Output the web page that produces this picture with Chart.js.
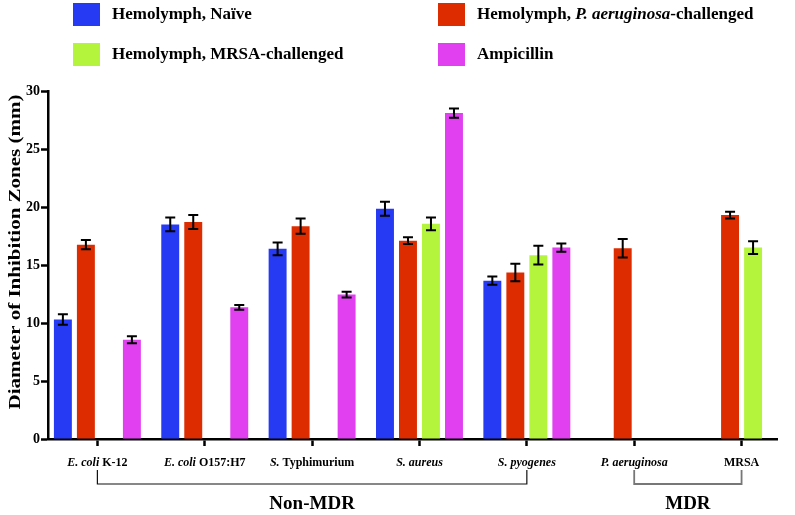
<!DOCTYPE html>
<html lang="en">
<head>
<meta charset="UTF-8">
<title>Diameter of Inhibition Zones</title>
<script src="https://cdn.jsdelivr.net/npm/chart.js"></script>
<style>
  html, body { margin: 0; padding: 0; background: #fff; }
</style>
</head>
<body>
<canvas id="myChart" width="795" height="515"></canvas>
<script>
// ---- data ----
const categories = ['E. coli K-12', 'E. coli O157:H7', 'S. Typhimurium', 'S. aureus', 'S. pyogenes', 'P. aeruginosa', 'MRSA'];
const categoryItalic = ['E. coli', 'E. coli', 'S.', 'S. aureus', 'S. pyogenes', 'P. aeruginosa', ''];

const seriesNames = ['Hemolymph, Naïve', 'Hemolymph, P. aeruginosa-challenged', 'Hemolymph, MRSA-challenged', 'Ampicillin'];
const seriesItalic = ['', 'P. aeruginosa', '', ''];

const naive      = [10.3, 18.5, 16.4, 19.85, 13.65, null, null];
const naiveErr   = [0.45, 0.6, 0.55, 0.6, 0.35, null, null];
const paChall    = [16.75, 18.7, 18.35, 17.1, 14.35, 16.45, 19.3];
const paErr      = [0.4, 0.6, 0.65, 0.3, 0.75, 0.8, 0.3];
const mrsaChall  = [null, null, null, 18.55, 15.85, null, 16.5];
const mrsaErr    = [null, null, null, 0.55, 0.8, null, 0.55];
const ampicillin = [8.55, 11.35, 12.45, 28.1, 16.5, null, null];
const ampErr     = [0.3, 0.2, 0.25, 0.4, 0.35, null, null];

const yTitle = 'Diameter of Inhibition Zones (mm)';
const groups = [
    { label: 'Non-MDR', from: 0, to: 4 },
    { label: 'MDR', from: 5, to: 6 }
];

// ---- style ----
const colors = ['#2639f3', '#dc2c00', '#b5f43c', '#e040f0'];
const serif = '"Liberation Serif", "Times New Roman", serif';

const seriesData = [naive, paChall, mrsaChall, ampicillin];
const seriesErr = [naiveErr, paErr, mrsaErr, ampErr];

// text with one italic piece, the rest bold upright
function drawRich(ctx, text, italic, x, y, size, align) {
    const parts = [];
    const k = italic ? text.indexOf(italic) : -1;
    if (k < 0) {
        parts.push([text, false]);
    } else {
        if (k > 0) parts.push([text.slice(0, k), false]);
        parts.push([italic, true]);
        if (k + italic.length < text.length) parts.push([text.slice(k + italic.length), false]);
    }
    const fontOf = it => (it ? 'italic ' : '') + 'bold ' + size + 'px ' + serif;
    let total = 0;
    parts.forEach(p => { ctx.font = fontOf(p[1]); total += ctx.measureText(p[0]).width; });
    let cx = align === 'center' ? x - total / 2 : x;
    ctx.textAlign = 'left';
    ctx.textBaseline = 'middle';
    parts.forEach(p => {
        ctx.font = fontOf(p[1]);
        ctx.fillText(p[0], cx, y);
        cx += ctx.measureText(p[0]).width;
    });
}

const errorBars = {
    id: 'errorBars',
    afterDatasetsDraw(chart) {
        const ctx = chart.ctx;
        const ys = chart.scales.y;
        ctx.save();
        ctx.strokeStyle = '#000';
        ctx.lineWidth = 2;
        chart.data.datasets.forEach((ds, di) => {
            const meta = chart.getDatasetMeta(di);
            meta.data.forEach((bar, i) => {
                const v = seriesData[di][i];
                const e = seriesErr[di][i];
                if (v == null || e == null) return;
                const top = ys.getPixelForValue(v + e);
                const bot = ys.getPixelForValue(v - e);
                const x = bar.x;
                ctx.beginPath();
                ctx.moveTo(x, top); ctx.lineTo(x, bot);
                ctx.moveTo(x - 5, top); ctx.lineTo(x + 5, top);
                ctx.moveTo(x - 5, bot); ctx.lineTo(x + 5, bot);
                ctx.stroke();
            });
        });
        ctx.restore();
    }
};

const decorations = {
    id: 'decorations',
    afterDraw(chart) {
        const ctx = chart.ctx;
        const xs = chart.scales.x;
        const area = chart.chartArea;
        ctx.save();
        ctx.fillStyle = '#000';

        // legend, two columns
        const legendPos = [[73, 3], [438, 3], [73, 43], [438, 43]];
        seriesNames.forEach((name, i) => {
            const [lx, ly] = legendPos[i];
            ctx.fillStyle = colors[i];
            ctx.fillRect(lx, ly, 27, 23);
            ctx.fillStyle = '#000';
            drawRich(ctx, name, seriesItalic[i], lx + 39, ly + 12, 17, 'left');
        });

        // category labels
        categories.forEach((c, i) => {
            drawRich(ctx, c, categoryItalic[i], xs.getPixelForValue(i), area.bottom + 24, 12, 'center');
        });

        // group brackets
        groups.forEach((g, gi) => {
            const x1 = xs.getPixelForValue(g.from);
            const x2 = xs.getPixelForValue(g.to);
            ctx.strokeStyle = gi === 0 ? '#111' : '#777';
            ctx.lineWidth = gi === 0 ? 1.2 : 1.8;
            ctx.beginPath();
            ctx.moveTo(x1, area.bottom + 31);
            ctx.lineTo(x1, area.bottom + 45);
            ctx.lineTo(x2, area.bottom + 45);
            ctx.lineTo(x2, area.bottom + 31);
            ctx.stroke();
            drawRich(ctx, g.label, '', (x1 + x2) / 2, area.bottom + 65, 19, 'center');
        });

        // y axis title, a little stretched along its length like the original
        ctx.translate(15, 252);
        ctx.rotate(-Math.PI / 2);
        ctx.scale(1.2, 1);
        drawRich(ctx, yTitle, '', 0, 0, 17.5, 'center');
        ctx.restore();
    }
};

const ctx = document.getElementById('myChart').getContext('2d');
new Chart(ctx, {
    type: 'bar',
    data: {
        datasets: seriesData.map((vals, s) => ({
            label: seriesNames[s],
            data: vals.map((v, i) => ({ x: i, y: v })),
            backgroundColor: colors[s],
            borderWidth: 0,
            categoryPercentage: 0.857,
            barPercentage: 0.78
        }))
    },
    options: {
        responsive: false,
        animation: false,
        layout: { padding: { left: 0, right: 18, top: 91, bottom: 0 } },
        plugins: {
            legend: { display: false },
            tooltip: { enabled: false }
        },
        scales: {
            x: {
                type: 'linear',
                min: -0.46,
                max: 6.33,
                offset: false,
                afterBuildTicks: s => { s.ticks = categories.map((c, i) => ({ value: i })); },
                afterFit: s => { s.height = 515 - 439; },
                ticks: { display: false },
                grid: { offset: false, drawOnChartArea: false, drawTicks: true, tickLength: 7, tickWidth: 2.5, tickColor: '#000' },
                border: { color: '#000', width: 2.5 }
            },
            y: {
                min: 0,
                max: 30,
                afterFit: s => { s.width = 48; },
                ticks: {
                    stepSize: 5,
                    color: '#000',
                    padding: 1,
                    font: { family: serif, size: 14, weight: 'bold' }
                },
                grid: { drawOnChartArea: false, drawTicks: true, tickLength: 7, tickWidth: 2.5, tickColor: '#000' },
                border: { color: '#000', width: 2.5 }
            }
        }
    },
    plugins: [errorBars, decorations]
});
</script>
</body>
</html>
